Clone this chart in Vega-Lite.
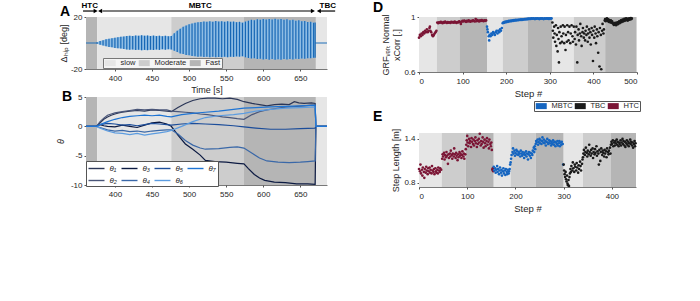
{
"$schema": "https://vega.github.io/schema/vega-lite/v6.json",
"background": "white",
"padding": {"left": 56, "top": 1, "right": 5, "bottom": 5},
"config": {
 "font": "Liberation Sans",
 "view": {"stroke": null},
 "axis": {"labelFontSize": 8, "labelColor": "#262626", "titleFontSize": 9, "titleFontWeight": "normal", "titleColor": "#262626", "domainColor": "#555", "domainWidth": 0.8, "tickSize": 2, "tickColor": "#555", "grid": false, "labelPadding": 2, "labelFont": "Liberation Sans", "titleFont": "Liberation Sans"},
 "title": {"font": "Liberation Sans", "fontSize": 14, "fontWeight": "bold", "anchor": "start", "color": "black", "baseline": "alphabetic", "frame": "group"},
 "legend": {"labelFont": "Liberation Sans", "labelColor": "#262626"}
},
"datasets": {
 "phases": [{"start":361,"end":376,"phase":"HTC"},{"start":376,"end":476,"phase":"slow"},{"start":476,"end":574,"phase":"Moderate"},{"start":574,"end":671,"phase":"Fast"},{"start":671,"end":686,"phase":"TBC"}],
 "hip": [
  {"t":376,"hi":0.6,"lo":-0.6},{"t":380,"hi":1.5,"lo":-1.3},{"t":384,"hi":2.2,"lo":-2.0},{"t":388,"hi":2.8,"lo":-2.5},{"t":392,"hi":3.2,"lo":-3.0},{"t":396,"hi":3.6,"lo":-3.3},{"t":400,"hi":4.0,"lo":-3.8},{"t":404,"hi":4.5,"lo":-4.0},{"t":408,"hi":4.8,"lo":-4.3},{"t":412,"hi":5.0,"lo":-4.6},{"t":416,"hi":5.4,"lo":-5.0},{"t":420,"hi":5.6,"lo":-5.2},{"t":424,"hi":5.3,"lo":-5.0},{"t":428,"hi":5.8,"lo":-5.4},{"t":432,"hi":5.5,"lo":-5.1},{"t":436,"hi":5.9,"lo":-5.6},{"t":440,"hi":5.6,"lo":-5.3},{"t":444,"hi":5.8,"lo":-5.5},{"t":448,"hi":5.4,"lo":-5.2},{"t":452,"hi":5.7,"lo":-5.4},{"t":456,"hi":5.3,"lo":-5.0},{"t":460,"hi":5.6,"lo":-5.3},{"t":464,"hi":5.2,"lo":-4.9},{"t":468,"hi":5.5,"lo":-5.2},{"t":472,"hi":5.1,"lo":-4.8},{"t":476,"hi":5.3,"lo":-5.0},
  {"t":480,"hi":7.5,"lo":-6.0},{"t":484,"hi":9.5,"lo":-7.0},{"t":488,"hi":11.0,"lo":-8.0},{"t":492,"hi":12.5,"lo":-8.5},{"t":496,"hi":13.5,"lo":-9.2},{"t":500,"hi":14.5,"lo":-9.5},{"t":504,"hi":15.0,"lo":-10.0},{"t":508,"hi":15.5,"lo":-10.2},{"t":512,"hi":16.0,"lo":-10.5},{"t":516,"hi":16.2,"lo":-10.4},{"t":520,"hi":16.6,"lo":-10.8},{"t":524,"hi":16.3,"lo":-10.5},{"t":528,"hi":16.8,"lo":-11.0},{"t":532,"hi":16.4,"lo":-10.6},{"t":536,"hi":16.9,"lo":-11.0},{"t":540,"hi":16.5,"lo":-10.7},{"t":544,"hi":16.8,"lo":-11.0},{"t":548,"hi":16.4,"lo":-10.6},{"t":552,"hi":16.7,"lo":-10.9},{"t":556,"hi":16.3,"lo":-10.5},{"t":560,"hi":16.5,"lo":-10.7},{"t":564,"hi":16.0,"lo":-10.3},{"t":568,"hi":16.3,"lo":-10.5},{"t":572,"hi":15.6,"lo":-10.2},
  {"t":576,"hi":16.5,"lo":-11.0},{"t":580,"hi":17.2,"lo":-11.5},{"t":584,"hi":17.8,"lo":-12.0},{"t":588,"hi":17.5,"lo":-11.8},{"t":592,"hi":18.2,"lo":-12.4},{"t":596,"hi":17.8,"lo":-12.1},{"t":600,"hi":18.4,"lo":-12.6},{"t":604,"hi":18.0,"lo":-12.3},{"t":608,"hi":18.5,"lo":-12.8},{"t":612,"hi":18.1,"lo":-12.4},{"t":616,"hi":18.6,"lo":-12.9},{"t":620,"hi":18.0,"lo":-12.5},{"t":624,"hi":18.4,"lo":-12.8},{"t":628,"hi":17.8,"lo":-12.4},{"t":632,"hi":18.2,"lo":-12.7},{"t":636,"hi":17.5,"lo":-12.3},{"t":640,"hi":17.9,"lo":-12.6},{"t":644,"hi":17.2,"lo":-12.2},{"t":648,"hi":17.5,"lo":-12.4},{"t":652,"hi":16.8,"lo":-12.0},{"t":656,"hi":17.0,"lo":-12.1},{"t":660,"hi":16.2,"lo":-11.7},{"t":664,"hi":16.4,"lo":-11.8},{"t":668,"hi":15.6,"lo":-11.3},{"t":670,"hi":15.8,"lo":-11.4}
 ],
 "arrowSeg": [{"a":357,"b":373},{"a":383,"b":666},{"a":677,"b":697}],
 "arrowHead": [{"t":374,"d":"r"},{"t":380,"d":"l"},{"t":667,"d":"r"},{"t":675,"d":"l"}],
 "arrowLab": [{"t":366,"lab":"HTC"},{"t":515,"lab":"MBTC"},{"t":687,"lab":"TBC"}],
 "angles": [
  {"s":"θ₁","t":361,"v":0},{"s":"θ₁","t":375,"v":0},{"s":"θ₁","t":380,"v":0.6},{"s":"θ₁","t":385,"v":1.2},{"s":"θ₁","t":390,"v":1.6},{"s":"θ₁","t":395,"v":1.9},{"s":"θ₁","t":400,"v":2.1},{"s":"θ₁","t":405,"v":2.3},{"s":"θ₁","t":410,"v":2.4},{"s":"θ₁","t":420,"v":2.6},{"s":"θ₁","t":430,"v":2.7},{"s":"θ₁","t":440,"v":2.6},{"s":"θ₁","t":450,"v":2.8},{"s":"θ₁","t":460,"v":2.7},{"s":"θ₁","t":470,"v":2.6},{"s":"θ₁","t":476,"v":2.5},{"s":"θ₁","t":485,"v":3.2},{"s":"θ₁","t":495,"v":3.9},{"s":"θ₁","t":505,"v":4.4},{"s":"θ₁","t":515,"v":4.7},{"s":"θ₁","t":525,"v":4.8},{"s":"θ₁","t":535,"v":4.8},{"s":"θ₁","t":545,"v":4.7},{"s":"θ₁","t":555,"v":4.8},{"s":"θ₁","t":565,"v":4.6},{"s":"θ₁","t":574,"v":4.2},{"s":"θ₁","t":585,"v":3.9},{"s":"θ₁","t":595,"v":3.7},{"s":"θ₁","t":605,"v":3.5},{"s":"θ₁","t":615,"v":3.7},{"s":"θ₁","t":625,"v":3.8},{"s":"θ₁","t":635,"v":3.7},{"s":"θ₁","t":642,"v":4.2},{"s":"θ₁","t":648,"v":4.0},{"s":"θ₁","t":655,"v":3.9},{"s":"θ₁","t":665,"v":4.0},{"s":"θ₁","t":670,"v":3.9},{"s":"θ₁","t":671,"v":0},{"s":"θ₁","t":686,"v":0},
  {"s":"θ₂","t":361,"v":0},{"s":"θ₂","t":375,"v":0},{"s":"θ₂","t":380,"v":0.8},{"s":"θ₂","t":385,"v":1.4},{"s":"θ₂","t":390,"v":1.9},{"s":"θ₂","t":395,"v":2.1},{"s":"θ₂","t":400,"v":2.3},{"s":"θ₂","t":410,"v":2.5},{"s":"θ₂","t":420,"v":2.7},{"s":"θ₂","t":430,"v":2.9},{"s":"θ₂","t":440,"v":2.8},{"s":"θ₂","t":450,"v":2.9},{"s":"θ₂","t":460,"v":2.8},{"s":"θ₂","t":470,"v":2.8},{"s":"θ₂","t":476,"v":2.6},{"s":"θ₂","t":485,"v":2.5},{"s":"θ₂","t":495,"v":2.4},{"s":"θ₂","t":505,"v":2.3},{"s":"θ₂","t":515,"v":2.1},{"s":"θ₂","t":525,"v":2.0},{"s":"θ₂","t":535,"v":1.8},{"s":"θ₂","t":545,"v":1.6},{"s":"θ₂","t":555,"v":1.5},{"s":"θ₂","t":565,"v":1.3},{"s":"θ₂","t":574,"v":1.2},{"s":"θ₂","t":585,"v":2.0},{"s":"θ₂","t":595,"v":2.5},{"s":"θ₂","t":605,"v":2.8},{"s":"θ₂","t":615,"v":3.0},{"s":"θ₂","t":625,"v":3.2},{"s":"θ₂","t":635,"v":3.3},{"s":"θ₂","t":645,"v":3.4},{"s":"θ₂","t":655,"v":3.5},{"s":"θ₂","t":665,"v":3.6},{"s":"θ₂","t":670,"v":3.6},{"s":"θ₂","t":671,"v":0},{"s":"θ₂","t":686,"v":0},
  {"s":"θ₃","t":361,"v":0},{"s":"θ₃","t":375,"v":0},{"s":"θ₃","t":380,"v":0.3},{"s":"θ₃","t":385,"v":0.1},{"s":"θ₃","t":390,"v":0.0},{"s":"θ₃","t":400,"v":-0.1},{"s":"θ₃","t":410,"v":0.2},{"s":"θ₃","t":420,"v":0.0},{"s":"θ₃","t":430,"v":-0.2},{"s":"θ₃","t":440,"v":0.2},{"s":"θ₃","t":450,"v":0.6},{"s":"θ₃","t":460,"v":0.7},{"s":"θ₃","t":470,"v":0.4},{"s":"θ₃","t":476,"v":0.0},{"s":"θ₃","t":485,"v":-1.5},{"s":"θ₃","t":495,"v":-3.0},{"s":"θ₃","t":505,"v":-3.9},{"s":"θ₃","t":515,"v":-4.9},{"s":"θ₃","t":522,"v":-5.8},{"s":"θ₃","t":535,"v":-6.0},{"s":"θ₃","t":550,"v":-6.1},{"s":"θ₃","t":565,"v":-6.3},{"s":"θ₃","t":574,"v":-6.4},{"s":"θ₃","t":580,"v":-7.2},{"s":"θ₃","t":588,"v":-8.2},{"s":"θ₃","t":595,"v":-8.8},{"s":"θ₃","t":602,"v":-9.2},{"s":"θ₃","t":615,"v":-9.5},{"s":"θ₃","t":630,"v":-9.6},{"s":"θ₃","t":645,"v":-9.8},{"s":"θ₃","t":660,"v":-9.8},{"s":"θ₃","t":670,"v":-9.9},{"s":"θ₃","t":671,"v":0},{"s":"θ₃","t":686,"v":0},
  {"s":"θ₄","t":361,"v":0},{"s":"θ₄","t":375,"v":0},{"s":"θ₄","t":380,"v":-0.2},{"s":"θ₄","t":390,"v":-0.6},{"s":"θ₄","t":400,"v":-0.8},{"s":"θ₄","t":410,"v":-0.7},{"s":"θ₄","t":420,"v":-0.9},{"s":"θ₄","t":430,"v":-0.8},{"s":"θ₄","t":440,"v":-1.0},{"s":"θ₄","t":450,"v":-0.8},{"s":"θ₄","t":460,"v":-0.7},{"s":"θ₄","t":470,"v":-0.6},{"s":"θ₄","t":476,"v":-0.6},{"s":"θ₄","t":485,"v":-1.3},{"s":"θ₄","t":495,"v":-2.4},{"s":"θ₄","t":505,"v":-3.2},{"s":"θ₄","t":515,"v":-3.7},{"s":"θ₄","t":522,"v":-3.9},{"s":"θ₄","t":540,"v":-3.8},{"s":"θ₄","t":555,"v":-3.6},{"s":"θ₄","t":565,"v":-3.5},{"s":"θ₄","t":574,"v":-3.7},{"s":"θ₄","t":585,"v":-4.6},{"s":"θ₄","t":595,"v":-5.4},{"s":"θ₄","t":605,"v":-5.9},{"s":"θ₄","t":620,"v":-6.1},{"s":"θ₄","t":635,"v":-6.2},{"s":"θ₄","t":650,"v":-6.1},{"s":"θ₄","t":660,"v":-6.0},{"s":"θ₄","t":670,"v":-5.9},{"s":"θ₄","t":671,"v":0},{"s":"θ₄","t":686,"v":0},
  {"s":"θ₅","t":361,"v":0},{"s":"θ₅","t":375,"v":0},{"s":"θ₅","t":380,"v":0.3},{"s":"θ₅","t":390,"v":0.5},{"s":"θ₅","t":400,"v":0.4},{"s":"θ₅","t":410,"v":0.2},{"s":"θ₅","t":420,"v":0.3},{"s":"θ₅","t":430,"v":0.1},{"s":"θ₅","t":440,"v":0.3},{"s":"θ₅","t":450,"v":0.5},{"s":"θ₅","t":460,"v":0.4},{"s":"θ₅","t":470,"v":0.3},{"s":"θ₅","t":476,"v":0.2},{"s":"θ₅","t":490,"v":0.4},{"s":"θ₅","t":505,"v":0.5},{"s":"θ₅","t":522,"v":0.4},{"s":"θ₅","t":540,"v":0.3},{"s":"θ₅","t":560,"v":0.1},{"s":"θ₅","t":574,"v":-0.1},{"s":"θ₅","t":590,"v":-0.3},{"s":"θ₅","t":610,"v":-0.5},{"s":"θ₅","t":630,"v":-0.5},{"s":"θ₅","t":650,"v":-0.4},{"s":"θ₅","t":670,"v":-0.3},{"s":"θ₅","t":671,"v":0},{"s":"θ₅","t":686,"v":0},
  {"s":"θ₆","t":361,"v":0},{"s":"θ₆","t":375,"v":0},{"s":"θ₆","t":380,"v":-0.3},{"s":"θ₆","t":390,"v":-0.8},{"s":"θ₆","t":400,"v":-1.1},{"s":"θ₆","t":410,"v":-1.2},{"s":"θ₆","t":420,"v":-1.4},{"s":"θ₆","t":430,"v":-1.2},{"s":"θ₆","t":440,"v":-1.5},{"s":"θ₆","t":450,"v":-1.3},{"s":"θ₆","t":460,"v":-1.1},{"s":"θ₆","t":470,"v":-0.9},{"s":"θ₆","t":476,"v":-0.7},{"s":"θ₆","t":490,"v":0.0},{"s":"θ₆","t":505,"v":0.8},{"s":"θ₆","t":522,"v":1.5},{"s":"θ₆","t":540,"v":1.8},{"s":"θ₆","t":560,"v":2.0},{"s":"θ₆","t":574,"v":2.2},{"s":"θ₆","t":590,"v":2.6},{"s":"θ₆","t":610,"v":2.9},{"s":"θ₆","t":630,"v":3.1},{"s":"θ₆","t":650,"v":3.2},{"s":"θ₆","t":670,"v":3.3},{"s":"θ₆","t":671,"v":0},{"s":"θ₆","t":686,"v":0},
  {"s":"θ₇","t":361,"v":0},{"s":"θ₇","t":375,"v":0},{"s":"θ₇","t":380,"v":0.3},{"s":"θ₇","t":390,"v":0.8},{"s":"θ₇","t":400,"v":1.2},{"s":"θ₇","t":410,"v":1.5},{"s":"θ₇","t":420,"v":1.7},{"s":"θ₇","t":430,"v":1.8},{"s":"θ₇","t":440,"v":1.9},{"s":"θ₇","t":450,"v":1.8},{"s":"θ₇","t":460,"v":1.9},{"s":"θ₇","t":470,"v":1.7},{"s":"θ₇","t":476,"v":1.6},{"s":"θ₇","t":490,"v":2.0},{"s":"θ₇","t":505,"v":2.2},{"s":"θ₇","t":522,"v":2.4},{"s":"θ₇","t":540,"v":2.6},{"s":"θ₇","t":560,"v":2.9},{"s":"θ₇","t":574,"v":3.1},{"s":"θ₇","t":590,"v":3.2},{"s":"θ₇","t":610,"v":3.3},{"s":"θ₇","t":630,"v":3.4},{"s":"θ₇","t":650,"v":3.5},{"s":"θ₇","t":670,"v":3.6},{"s":"θ₇","t":671,"v":0},{"s":"θ₇","t":686,"v":0}
 ],
 "dBg": [{"a":0,"b":41,"k":"light"},{"a":41,"b":94,"k":"medium"},{"a":94,"b":156,"k":"dark"},{"a":156,"b":192,"k":"light"},{"a":192,"b":250,"k":"medium"},{"a":250,"b":305,"k":"dark"},{"a":305,"b":355,"k":"light"},{"a":355,"b":427,"k":"medium"},{"a":427,"b":499,"k":"dark"}],
 "eBg": [{"a":0,"b":47,"k":"light"},{"a":47,"b":97,"k":"medium"},{"a":97,"b":155,"k":"dark"},{"a":155,"b":190,"k":"light"},{"a":190,"b":242,"k":"medium"},{"a":242,"b":300,"k":"dark"},{"a":300,"b":340,"k":"light"},{"a":340,"b":398,"k":"medium"},{"a":398,"b":450,"k":"dark"}],
 "dH": [{"s":0,"v":0.85},{"s":2,"v":0.87},{"s":4,"v":0.86},{"s":6,"v":0.88},{"s":8,"v":0.87},{"s":10,"v":0.89},{"s":12,"v":0.88},{"s":14,"v":0.9},{"s":16,"v":0.89},{"s":18,"v":0.91},{"s":20,"v":0.89},{"s":22,"v":0.9},{"s":24,"v":0.92},{"s":25,"v":0.93},{"s":26,"v":0.9},{"s":28,"v":0.89},{"s":30,"v":0.87},{"s":32,"v":0.86},{"s":34,"v":0.87},{"s":36,"v":0.88},{"s":38,"v":0.89},{"s":40,"v":0.9},
  {"s":42,"v":0.96},{"s":44,"v":0.955},{"s":46,"v":0.962},{"s":48,"v":0.958},{"s":50,"v":0.965},{"s":52,"v":0.96},{"s":54,"v":0.955},{"s":56,"v":0.963},{"s":58,"v":0.958},{"s":60,"v":0.966},{"s":62,"v":0.96},{"s":64,"v":0.957},{"s":66,"v":0.964},{"s":68,"v":0.959},{"s":70,"v":0.962},{"s":72,"v":0.956},{"s":74,"v":0.965},{"s":76,"v":0.96},{"s":78,"v":0.963},{"s":80,"v":0.958},{"s":82,"v":0.966},{"s":84,"v":0.961},{"s":86,"v":0.957},{"s":88,"v":0.964},{"s":90,"v":0.96},{"s":92,"v":0.968},{"s":94,"v":0.963},{"s":96,"v":0.95},{"s":98,"v":0.966},{"s":100,"v":0.972},{"s":102,"v":0.967},{"s":104,"v":0.974},{"s":106,"v":0.969},{"s":108,"v":0.965},{"s":110,"v":0.972},{"s":112,"v":0.968},{"s":114,"v":0.975},{"s":116,"v":0.97},{"s":118,"v":0.966},{"s":120,"v":0.973},{"s":122,"v":0.969},{"s":124,"v":0.976},{"s":126,"v":0.971},{"s":128,"v":0.967},{"s":130,"v":0.985},{"s":132,"v":0.97},{"s":134,"v":0.977},{"s":136,"v":0.972},{"s":138,"v":0.968},{"s":140,"v":0.975},{"s":142,"v":0.971},{"s":144,"v":0.978},{"s":146,"v":0.973},{"s":148,"v":0.97},{"s":150,"v":0.976},{"s":152,"v":0.972},{"s":154,"v":0.975}],
 "dM": [{"s":156,"v":0.93},{"s":157,"v":0.91},{"s":158,"v":0.89},{"s":160,"v":0.86},{"s":161,"v":0.83},{"s":162,"v":0.87},{"s":164,"v":0.86},{"s":166,"v":0.88},{"s":168,"v":0.87},{"s":170,"v":0.89},{"s":172,"v":0.88},{"s":174,"v":0.87},{"s":176,"v":0.89},{"s":178,"v":0.9},{"s":180,"v":0.88},{"s":182,"v":0.9},{"s":184,"v":0.89},{"s":186,"v":0.91},{"s":188,"v":0.9},{"s":190,"v":0.92},
  {"s":192,"v":0.955},{"s":194,"v":0.962},{"s":196,"v":0.958},{"s":198,"v":0.966},{"s":200,"v":0.962},{"s":202,"v":0.969},{"s":204,"v":0.965},{"s":206,"v":0.972},{"s":208,"v":0.968},{"s":210,"v":0.974},{"s":212,"v":0.97},{"s":214,"v":0.976},{"s":216,"v":0.972},{"s":218,"v":0.977},{"s":220,"v":0.974},{"s":222,"v":0.979},{"s":224,"v":0.975},{"s":226,"v":0.98},{"s":228,"v":0.977},{"s":230,"v":0.982},{"s":232,"v":0.978},{"s":234,"v":0.983},{"s":236,"v":0.979},{"s":238,"v":0.984},{"s":240,"v":0.981},{"s":242,"v":0.985},{"s":244,"v":0.982},{"s":246,"v":0.986},{"s":248,"v":0.983},{"s":250,"v":0.988},
  {"s":252,"v":0.985},{"s":254,"v":0.989},{"s":256,"v":0.986},{"s":258,"v":0.99},{"s":260,"v":0.987},{"s":262,"v":0.991},{"s":264,"v":0.988},{"s":266,"v":0.985},{"s":268,"v":0.99},{"s":270,"v":0.987},{"s":272,"v":0.991},{"s":274,"v":0.988},{"s":276,"v":0.985},{"s":278,"v":0.99},{"s":280,"v":0.987},{"s":282,"v":0.991},{"s":284,"v":0.988},{"s":286,"v":0.985},{"s":288,"v":0.99},{"s":290,"v":0.987},{"s":292,"v":0.991},{"s":294,"v":0.988},{"s":296,"v":0.99},{"s":298,"v":0.986},{"s":300,"v":0.991},{"s":302,"v":0.988},{"s":304,"v":0.99}],
 "dT": [{"s":306,"v":0.96},{"s":307,"v":0.9},{"s":308,"v":0.85},{"s":310,"v":0.93},{"s":311,"v":0.88},{"s":312,"v":0.82},{"s":314,"v":0.94},{"s":315,"v":0.79},{"s":316,"v":0.87},{"s":318,"v":0.75},{"s":319,"v":0.92},{"s":320,"v":0.84},{"s":321,"v":0.67},{"s":322,"v":0.89},{"s":324,"v":0.81},{"s":325,"v":0.93},{"s":327,"v":0.86},{"s":328,"v":0.82},{"s":330,"v":0.94},{"s":331,"v":0.88},{"s":333,"v":0.81},{"s":334,"v":0.93},{"s":336,"v":0.76},{"s":337,"v":0.87},{"s":339,"v":0.82},{"s":340,"v":0.94},{"s":342,"v":0.89},{"s":343,"v":0.83},{"s":345,"v":0.93},{"s":347,"v":0.81},{"s":348,"v":0.88},{"s":350,"v":0.94},{"s":352,"v":0.86},{"s":353,"v":0.82},{"s":355,"v":0.93},{"s":357,"v":0.84},{"s":358,"v":0.89},{"s":360,"v":0.8},{"s":361,"v":0.93},{"s":363,"v":0.67},{"s":364,"v":0.87},{"s":366,"v":0.91},{"s":367,"v":0.83},{"s":369,"v":0.88},{"s":370,"v":0.95},{"s":372,"v":0.86},{"s":373,"v":0.79},{"s":375,"v":0.89},{"s":376,"v":0.92},{"s":378,"v":0.85},{"s":379,"v":0.88},{"s":381,"v":0.83},{"s":382,"v":0.9},{"s":384,"v":0.87},{"s":385,"v":0.93},{"s":387,"v":0.82},{"s":388,"v":0.88},{"s":390,"v":0.91},{"s":391,"v":0.85},{"s":393,"v":0.89},{"s":394,"v":0.8},{"s":396,"v":0.92},{"s":397,"v":0.87},{"s":399,"v":0.68},{"s":400,"v":0.9},{"s":402,"v":0.85},{"s":403,"v":0.93},{"s":405,"v":0.88},{"s":406,"v":0.81},{"s":408,"v":0.91},{"s":409,"v":0.86},{"s":411,"v":0.74},{"s":412,"v":0.89},{"s":414,"v":0.64},{"s":415,"v":0.92},{"s":417,"v":0.87},{"s":418,"v":0.62},{"s":420,"v":0.9},{"s":421,"v":0.95},{"s":423,"v":0.88},{"s":424,"v":0.91},
  {"s":426,"v":0.975},{"s":427,"v":0.985},{"s":428,"v":0.97},{"s":430,"v":0.98},{"s":431,"v":0.99},{"s":432,"v":0.972},{"s":434,"v":0.983},{"s":435,"v":0.965},{"s":436,"v":0.978},{"s":438,"v":0.97},{"s":439,"v":0.96},{"s":440,"v":0.975},{"s":442,"v":0.958},{"s":443,"v":0.968},{"s":444,"v":0.955},{"s":446,"v":0.95},{"s":447,"v":0.942},{"s":448,"v":0.955},{"s":450,"v":0.945},{"s":451,"v":0.958},{"s":452,"v":0.94},{"s":454,"v":0.952},{"s":455,"v":0.962},{"s":456,"v":0.948},{"s":458,"v":0.96},{"s":459,"v":0.968},{"s":460,"v":0.955},{"s":462,"v":0.966},{"s":463,"v":0.975},{"s":464,"v":0.962},{"s":466,"v":0.972},{"s":467,"v":0.982},{"s":468,"v":0.968},{"s":470,"v":0.978},{"s":471,"v":0.986},{"s":472,"v":0.972},{"s":474,"v":0.982},{"s":475,"v":0.99},{"s":476,"v":0.976},{"s":478,"v":0.985},{"s":479,"v":0.974},{"s":480,"v":0.988},{"s":482,"v":0.98},{"s":483,"v":0.99},{"s":484,"v":0.982},{"s":486,"v":0.992},{"s":487,"v":0.985},{"s":488,"v":0.99}],
 "eH": [{"s":0,"v":0.99},{"s":2,"v":0.96},{"s":3,"v":1.05},{"s":4,"v":0.93},{"s":6,"v":0.98},{"s":7,"v":0.9},{"s":8,"v":1.01},{"s":10,"v":0.95},{"s":11,"v":0.87},{"s":12,"v":0.99},{"s":14,"v":0.94},{"s":15,"v":1.02},{"s":16,"v":0.97},{"s":18,"v":0.92},{"s":19,"v":1.0},{"s":20,"v":0.96},{"s":22,"v":1.01},{"s":23,"v":0.94},{"s":24,"v":0.98},{"s":26,"v":0.93},{"s":27,"v":1.03},{"s":28,"v":0.97},{"s":30,"v":0.95},{"s":31,"v":0.99},{"s":32,"v":0.92},{"s":34,"v":1.0},{"s":35,"v":0.96},{"s":36,"v":0.94},{"s":38,"v":0.98},{"s":39,"v":0.93},{"s":40,"v":1.01},{"s":42,"v":0.97},{"s":43,"v":0.95},{"s":44,"v":1.0},{"s":46,"v":0.98},
  {"s":48,"v":1.13},{"s":49,"v":1.19},{"s":50,"v":1.16},{"s":52,"v":1.21},{"s":53,"v":1.12},{"s":54,"v":1.18},{"s":56,"v":1.15},{"s":57,"v":1.22},{"s":58,"v":1.17},{"s":60,"v":1.06},{"s":61,"v":1.19},{"s":62,"v":1.14},{"s":64,"v":1.2},{"s":65,"v":1.16},{"s":66,"v":1.24},{"s":68,"v":1.18},{"s":69,"v":1.13},{"s":70,"v":1.2},{"s":72,"v":1.16},{"s":73,"v":1.27},{"s":74,"v":1.19},{"s":76,"v":1.14},{"s":77,"v":1.21},{"s":78,"v":1.17},{"s":80,"v":1.11},{"s":81,"v":1.19},{"s":82,"v":1.15},{"s":84,"v":1.22},{"s":85,"v":1.17},{"s":86,"v":1.2},{"s":88,"v":1.14},{"s":89,"v":1.18},{"s":90,"v":1.23},{"s":92,"v":1.16},{"s":93,"v":1.2},{"s":94,"v":1.13},{"s":96,"v":1.19},{"s":97,"v":1.26},
  {"s":98,"v":1.32},{"s":99,"v":1.38},{"s":100,"v":1.44},{"s":101,"v":1.35},{"s":102,"v":1.3},{"s":104,"v":1.4},{"s":105,"v":1.34},{"s":106,"v":1.37},{"s":108,"v":1.29},{"s":109,"v":1.41},{"s":110,"v":1.36},{"s":112,"v":1.33},{"s":113,"v":1.39},{"s":114,"v":1.31},{"s":116,"v":1.37},{"s":117,"v":1.42},{"s":118,"v":1.34},{"s":120,"v":1.29},{"s":121,"v":1.38},{"s":122,"v":1.33},{"s":124,"v":1.4},{"s":125,"v":1.35},{"s":126,"v":1.47},{"s":128,"v":1.31},{"s":129,"v":1.37},{"s":130,"v":1.33},{"s":132,"v":1.42},{"s":133,"v":1.36},{"s":134,"v":1.28},{"s":136,"v":1.39},{"s":137,"v":1.34},{"s":138,"v":1.3},{"s":140,"v":1.37},{"s":141,"v":1.41},{"s":142,"v":1.32},{"s":144,"v":1.36},{"s":145,"v":1.27},{"s":146,"v":1.39},{"s":148,"v":1.33},{"s":149,"v":1.3},{"s":150,"v":1.35},{"s":151,"v":1.25},{"s":152,"v":0.98},{"s":153,"v":1.0},{"s":154,"v":0.96}],
 "eM": [{"s":155,"v":1.02},{"s":156,"v":0.97},{"s":158,"v":1.0},{"s":159,"v":0.94},{"s":160,"v":0.98},{"s":162,"v":1.03},{"s":163,"v":0.95},{"s":164,"v":0.99},{"s":166,"v":0.92},{"s":167,"v":0.97},{"s":168,"v":1.01},{"s":170,"v":0.94},{"s":171,"v":0.98},{"s":172,"v":0.9},{"s":174,"v":0.96},{"s":175,"v":1.0},{"s":176,"v":0.93},{"s":178,"v":0.97},{"s":179,"v":0.91},{"s":180,"v":0.99},{"s":182,"v":0.95},{"s":183,"v":0.92},{"s":184,"v":0.98},{"s":186,"v":0.93},{"s":187,"v":0.96},{"s":188,"v":0.99},{"s":189,"v":1.05},
  {"s":190,"v":1.08},{"s":191,"v":1.13},{"s":192,"v":1.18},{"s":194,"v":1.22},{"s":195,"v":1.27},{"s":196,"v":1.2},{"s":198,"v":1.24},{"s":199,"v":1.17},{"s":200,"v":1.21},{"s":202,"v":1.25},{"s":203,"v":1.19},{"s":204,"v":1.23},{"s":206,"v":1.18},{"s":207,"v":1.22},{"s":208,"v":1.2},{"s":210,"v":1.16},{"s":211,"v":1.24},{"s":212,"v":1.2},{"s":214,"v":1.17},{"s":215,"v":1.22},{"s":216,"v":1.19},{"s":218,"v":1.14},{"s":219,"v":1.21},{"s":220,"v":1.18},{"s":222,"v":1.23},{"s":223,"v":1.16},{"s":224,"v":1.2},{"s":226,"v":1.12},{"s":227,"v":1.19},{"s":228,"v":1.22},{"s":230,"v":1.17},{"s":231,"v":1.21},{"s":232,"v":1.14},{"s":234,"v":1.2},{"s":235,"v":1.18},{"s":236,"v":1.24},{"s":238,"v":1.28},{"s":239,"v":1.22},{"s":240,"v":1.3},{"s":241,"v":1.26},
  {"s":242,"v":1.33},{"s":243,"v":1.37},{"s":244,"v":1.35},{"s":246,"v":1.39},{"s":247,"v":1.32},{"s":248,"v":1.36},{"s":250,"v":1.4},{"s":251,"v":1.34},{"s":252,"v":1.38},{"s":254,"v":1.33},{"s":255,"v":1.37},{"s":256,"v":1.42},{"s":258,"v":1.35},{"s":259,"v":1.39},{"s":260,"v":1.34},{"s":262,"v":1.37},{"s":263,"v":1.31},{"s":264,"v":1.36},{"s":266,"v":1.4},{"s":267,"v":1.35},{"s":268,"v":1.33},{"s":270,"v":1.38},{"s":271,"v":1.34},{"s":272,"v":1.37},{"s":274,"v":1.31},{"s":275,"v":1.36},{"s":276,"v":1.33},{"s":278,"v":1.38},{"s":279,"v":1.35},{"s":280,"v":1.32},{"s":282,"v":1.36},{"s":283,"v":1.3},{"s":284,"v":1.35},{"s":286,"v":1.33},{"s":287,"v":1.37},{"s":288,"v":1.31},{"s":290,"v":1.34},{"s":291,"v":1.37},{"s":292,"v":1.3},{"s":294,"v":1.35},{"s":295,"v":1.32},{"s":296,"v":1.36},{"s":298,"v":1.33},{"s":299,"v":1.05}],
 "eT": [{"s":300,"v":1.05},{"s":301,"v":0.97},{"s":302,"v":0.92},{"s":303,"v":0.88},{"s":304,"v":0.95},{"s":305,"v":0.85},{"s":306,"v":0.82},{"s":307,"v":0.9},{"s":308,"v":0.79},{"s":309,"v":0.77},{"s":310,"v":0.84},{"s":311,"v":0.76},{"s":312,"v":0.88},{"s":313,"v":0.93},{"s":314,"v":0.99},{"s":315,"v":0.95},{"s":316,"v":1.03},{"s":318,"v":0.97},{"s":319,"v":1.08},{"s":320,"v":1.0},{"s":322,"v":0.95},{"s":323,"v":1.05},{"s":324,"v":1.02},{"s":326,"v":0.97},{"s":327,"v":1.07},{"s":328,"v":1.01},{"s":330,"v":0.94},{"s":331,"v":1.04},{"s":332,"v":0.99},{"s":334,"v":1.09},{"s":335,"v":1.03},{"s":336,"v":0.97},{"s":338,"v":1.06},{"s":339,"v":1.12},
  {"s":340,"v":1.15},{"s":341,"v":1.2},{"s":342,"v":1.25},{"s":344,"v":1.18},{"s":345,"v":1.22},{"s":346,"v":1.28},{"s":348,"v":1.21},{"s":349,"v":1.16},{"s":350,"v":1.24},{"s":352,"v":1.19},{"s":353,"v":1.32},{"s":354,"v":1.22},{"s":356,"v":1.17},{"s":357,"v":1.25},{"s":358,"v":1.2},{"s":360,"v":1.27},{"s":361,"v":1.14},{"s":362,"v":1.22},{"s":364,"v":1.19},{"s":365,"v":1.26},{"s":366,"v":1.21},{"s":368,"v":1.3},{"s":369,"v":1.17},{"s":370,"v":1.23},{"s":372,"v":1.2},{"s":373,"v":1.05},{"s":374,"v":1.25},{"s":376,"v":1.1},{"s":377,"v":1.22},{"s":378,"v":1.27},{"s":380,"v":1.18},{"s":381,"v":1.24},{"s":382,"v":1.21},{"s":384,"v":1.16},{"s":385,"v":1.25},{"s":386,"v":1.2},{"s":388,"v":1.23},{"s":389,"v":1.15},{"s":390,"v":1.27},{"s":392,"v":1.22},{"s":393,"v":1.19},{"s":394,"v":1.24},{"s":396,"v":1.28},{"s":397,"v":1.2},
  {"s":398,"v":1.32},{"s":399,"v":1.36},{"s":400,"v":1.33},{"s":402,"v":1.38},{"s":403,"v":1.3},{"s":404,"v":1.35},{"s":406,"v":1.31},{"s":407,"v":1.37},{"s":408,"v":1.34},{"s":410,"v":1.39},{"s":411,"v":1.32},{"s":412,"v":1.36},{"s":414,"v":1.3},{"s":415,"v":1.35},{"s":416,"v":1.33},{"s":418,"v":1.38},{"s":419,"v":1.31},{"s":420,"v":1.35},{"s":422,"v":1.4},{"s":423,"v":1.33},{"s":424,"v":1.37},{"s":426,"v":1.31},{"s":427,"v":1.36},{"s":428,"v":1.29},{"s":430,"v":1.34},{"s":431,"v":1.38},{"s":432,"v":1.32},{"s":434,"v":1.36},{"s":435,"v":1.3},{"s":436,"v":1.34},{"s":438,"v":1.39},{"s":439,"v":1.33},{"s":440,"v":1.36},{"s":442,"v":1.31},{"s":443,"v":1.35},{"s":444,"v":1.28},{"s":446,"v":1.33},{"s":447,"v":1.37},{"s":448,"v":1.3},{"s":449,"v":1.34}]
},
"spacing": 37,
"resolve": {"scale": {"x": "independent", "y": "independent", "color": "independent", "fill": "independent", "stroke": "independent", "shape": "independent"}, "legend": {"color": "independent", "fill": "independent", "stroke": "independent", "shape": "independent"}},
"hconcat": [
 {
  "bounds": "flush",
  "spacing": 28,
  "resolve": {"scale": {"x": "independent", "y": "independent", "color": "independent", "fill": "independent", "stroke": "independent", "shape": "independent"}, "legend": {"color": "independent", "fill": "independent", "stroke": "independent", "shape": "independent"}},
  "vconcat": [
   {
    "width": 241, "height": 52,
    "title": {"text": "A", "dx": -26, "offset": -17},
    "layer": [
     {"data": {"name": "phases"}, "mark": {"type": "rect"},
      "encoding": {
       "x": {"field": "start", "type": "quantitative", "scale": {"domain": [361, 686], "nice": false, "zero": false}, "axis": {"values": [400,450,500,550,600,650], "title": "Time [s]", "titlePadding": 3, "labelPadding": 3}},
       "x2": {"field": "end"},
       "fill": {"field": "phase", "type": "nominal", "scale": {"domain": ["slow","Moderate","Fast","HTC","TBC"], "range": ["#e6e6e6","#cdcdcd","#b5b5b5","#b5b5b5","#e6e6e6"]},
        "legend": {"orient": "none", "legendX": 17, "legendY": 41, "direction": "horizontal", "title": null, "values": ["slow","Moderate","Fast"], "symbolType": "M-1.83,-1H1.83V1H-1.83Z", "symbolSize": 36, "symbolStrokeWidth": 0, "symbolOffset": 2.5, "labelFontSize": 7.5, "labelOffset": 6.5, "columnPadding": 2, "fillColor": "#f5f5f5", "strokeColor": "#777", "padding": 1}}
      }},
     {"data": {"values": [{}]}, "mark": {"type": "rule", "color": "#1f6fb8", "strokeWidth": 1.2},
      "encoding": {"y": {"datum": 0, "type": "quantitative", "scale": {"domain": [-20, 20], "nice": false}}}},
     {"data": {"name": "hip"}, "mark": {"type": "area", "color": "#8fbde4"},
      "encoding": {
       "x": {"field": "t", "type": "quantitative", "scale": {"domain": [361, 686], "nice": false, "zero": false}},
       "y": {"field": "hi", "type": "quantitative", "scale": {"domain": [-20, 20], "nice": false}, "axis": {"values": [-20, 0, 20], "title": "Δₕᵢₚ  [deg]", "labelExpr": "'' + datum.value", "titlePadding": 2}},
       "y2": {"field": "lo"}
      }},
     {"data": {"name": "hip"}, "mark": {"type": "rule", "color": "#1767b5", "strokeWidth": 1.2},
      "encoding": {
       "x": {"field": "t", "type": "quantitative", "scale": {"domain": [361, 686], "nice": false, "zero": false}},
       "y": {"field": "hi", "type": "quantitative", "scale": {"domain": [-20, 20], "nice": false}},
       "y2": {"field": "lo"}
      }},
     {"data": {"name": "arrowSeg"}, "mark": {"type": "rule", "color": "black", "strokeWidth": 1.2},
      "encoding": {
       "x": {"field": "a", "type": "quantitative", "scale": {"domain": [361, 686], "nice": false, "zero": false}},
       "x2": {"field": "b"},
       "y": {"datum": 24.6, "type": "quantitative", "scale": {"domain": [-20, 20], "nice": false}}
      }},
     {"data": {"name": "arrowHead"}, "mark": {"type": "point", "filled": true, "color": "black", "opacity": 1, "size": 22},
      "encoding": {
       "x": {"field": "t", "type": "quantitative", "scale": {"domain": [361, 686], "nice": false, "zero": false}},
       "y": {"datum": 24.6, "type": "quantitative", "scale": {"domain": [-20, 20], "nice": false}},
       "shape": {"field": "d", "type": "nominal", "scale": {"domain": ["r", "l"], "range": ["triangle-right", "triangle-left"]}, "legend": null}
      }},
     {"data": {"name": "arrowLab"}, "mark": {"type": "text", "fontSize": 8, "fontWeight": "bold", "baseline": "alphabetic", "color": "black"},
      "encoding": {
       "x": {"field": "t", "type": "quantitative", "scale": {"domain": [361, 686], "nice": false, "zero": false}},
       "y": {"datum": 26.8, "type": "quantitative", "scale": {"domain": [-20, 20], "nice": false}},
       "text": {"field": "lab"}
      }}
    ]
   },
   {
    "width": 241, "height": 88,
    "title": {"text": "B", "dx": -24, "offset": -11},
    "layer": [
     {"data": {"name": "phases"}, "mark": {"type": "rect"},
      "encoding": {
       "x": {"field": "start", "type": "quantitative", "scale": {"domain": [361, 686], "nice": false, "zero": false}, "axis": {"values": [400,450,500,550,600,650], "title": null, "labelPadding": 3}},
       "x2": {"field": "end"},
       "fill": {"field": "phase", "type": "nominal", "scale": {"domain": ["slow","Moderate","Fast","HTC","TBC"], "range": ["#e6e6e6","#cdcdcd","#b5b5b5","#b5b5b5","#e6e6e6"]}, "legend": null}
      }},
     {"data": {"name": "angles"}, "mark": {"type": "line", "strokeWidth": 1.2, "interpolate": "linear"},
      "encoding": {
       "x": {"field": "t", "type": "quantitative", "scale": {"domain": [361, 686], "nice": false, "zero": false}},
       "y": {"field": "v", "type": "quantitative", "scale": {"domain": [-10, 5], "nice": false}, "axis": {"values": [-10, -5, 0, 5], "title": "θ", "titleFontStyle": "italic", "labelExpr": "'' + datum.value", "titlePadding": 5}},
       "detail": {"field": "s", "type": "nominal"},
       "stroke": {"field": "s", "type": "nominal", "scale": {"domain": ["θ₁","θ₃","θ₅","θ₇","θ₂","θ₄","θ₆"], "range": ["#2b3657","#0c1a42","#1c4d9a","#1e74d4","#4a5679","#3a68a8","#5c9ce0"]},
        "legend": {"orient": "none", "legendX": 0, "legendY": 64, "columns": 4, "direction": "horizontal", "title": null, "symbolType": "M-1.6,0H1.6", "symbolSize": 100, "symbolStrokeWidth": 1.4, "symbolFillColor": "transparent", "symbolOffset": 3, "labelFontSize": 8, "labelFontStyle": "italic", "labelOffset": 7, "columnPadding": 1, "rowPadding": 2, "fillColor": "white", "strokeColor": "#555", "padding": 1.5}}
      }}
    ]
   }
  ]
 },
 {
  "bounds": "flush",
  "spacing": 61,
  "resolve": {"scale": {"x": "independent", "y": "independent", "color": "independent", "fill": "independent"}, "legend": {"color": "independent", "fill": "independent"}},
  "vconcat": [
   {
    "width": 218, "height": 55,
    "title": {"text": "D", "dx": -46, "offset": -2},
    "layer": [
     {"data": {"name": "dBg"}, "mark": {"type": "rect"},
      "encoding": {
       "x": {"field": "a", "type": "quantitative", "scale": {"domain": [0, 500], "nice": false}, "axis": {"values": [0,50,100,150,200,250,300,350,400,450,500], "title": "Step #", "titleFontSize": 9.5, "titlePadding": 3, "labelPadding": 3}},
       "x2": {"field": "b"},
       "fill": {"field": "k", "type": "nominal", "scale": {"domain": ["light","medium","dark"], "range": ["#e6e6e6","#cdcdcd","#b5b5b5"]}, "legend": null}
      }},
     {"data": {"name": "dH"}, "mark": {"type": "circle", "size": 7, "opacity": 1},
      "encoding": {
       "x": {"field": "s", "type": "quantitative", "scale": {"domain": [0, 500], "nice": false}},
       "y": {"field": "v", "type": "quantitative", "scale": {"domain": [0.6, 1], "nice": false, "zero": false}, "axis": {"values": [0.6, 0.8, 1], "title": ["GRFᵥₑᵣₜ Normal", "xCorr [.]"], "labelExpr": "'' + datum.value", "titlePadding": 2}},
       "color": {"datum": "HTC", "type": "nominal", "scale": {"domain": ["MBTC","TBC","HTC"], "range": ["#1565c0","#1a1a1a","#7b1535"]},
        "legend": {"orient": "none", "legendX": 115, "legendY": 84, "direction": "horizontal", "title": null, "symbolType": "M-1.83,-1H1.83V1H-1.83Z", "symbolSize": 36, "symbolStrokeWidth": 0, "symbolOffset": 2.5, "labelFontSize": 7.5, "labelOffset": 6.5, "columnPadding": 1, "fillColor": "white", "strokeColor": "#555", "padding": 1}}
      }},
     {"data": {"name": "dM"}, "mark": {"type": "circle", "size": 7, "opacity": 1},
      "encoding": {
       "x": {"field": "s", "type": "quantitative", "scale": {"domain": [0, 500], "nice": false}},
       "y": {"field": "v", "type": "quantitative", "scale": {"domain": [0.6, 1], "nice": false, "zero": false}},
       "color": {"datum": "MBTC", "type": "nominal"}
      }},
     {"data": {"name": "dT"}, "mark": {"type": "circle", "size": 7, "opacity": 1},
      "encoding": {
       "x": {"field": "s", "type": "quantitative", "scale": {"domain": [0, 500], "nice": false}},
       "y": {"field": "v", "type": "quantitative", "scale": {"domain": [0.6, 1], "nice": false, "zero": false}},
       "color": {"datum": "TBC", "type": "nominal"}
      }}
    ]
   },
   {
    "width": 217, "height": 54,
    "title": {"text": "E", "dx": -46, "offset": 4},
    "layer": [
     {"data": {"name": "eBg"}, "mark": {"type": "rect"},
      "encoding": {
       "x": {"field": "a", "type": "quantitative", "scale": {"domain": [0, 450], "nice": false}, "axis": {"values": [0,50,100,150,200,250,300,350,400,450], "title": "Step #", "titleFontSize": 9.5, "titlePadding": 3, "labelPadding": 3}},
       "x2": {"field": "b"},
       "fill": {"field": "k", "type": "nominal", "scale": {"domain": ["light","medium","dark"], "range": ["#e6e6e6","#cdcdcd","#b5b5b5"]}, "legend": null}
      }},
     {"data": {"name": "eH"}, "mark": {"type": "circle", "size": 7, "opacity": 1},
      "encoding": {
       "x": {"field": "s", "type": "quantitative", "scale": {"domain": [0, 450], "nice": false}},
       "y": {"field": "v", "type": "quantitative", "scale": {"domain": [0.745, 1.48], "nice": false, "zero": false}, "axis": {"values": [0.8, 1, 1.2, 1.4], "title": "Step Length [m]", "labelExpr": "'' + datum.value", "titlePadding": 3}},
       "color": {"datum": "HTC", "type": "nominal", "scale": {"domain": ["MBTC","TBC","HTC"], "range": ["#1565c0","#1a1a1a","#7b1535"]}, "legend": null}
      }},
     {"data": {"name": "eM"}, "mark": {"type": "circle", "size": 7, "opacity": 1},
      "encoding": {
       "x": {"field": "s", "type": "quantitative", "scale": {"domain": [0, 450], "nice": false}},
       "y": {"field": "v", "type": "quantitative", "scale": {"domain": [0.745, 1.48], "nice": false, "zero": false}},
       "color": {"datum": "MBTC", "type": "nominal"}
      }},
     {"data": {"name": "eT"}, "mark": {"type": "circle", "size": 7, "opacity": 1},
      "encoding": {
       "x": {"field": "s", "type": "quantitative", "scale": {"domain": [0, 450], "nice": false}},
       "y": {"field": "v", "type": "quantitative", "scale": {"domain": [0.745, 1.48], "nice": false, "zero": false}},
       "color": {"datum": "TBC", "type": "nominal"}
      }}
    ]
   }
  ]
 }
]
}
